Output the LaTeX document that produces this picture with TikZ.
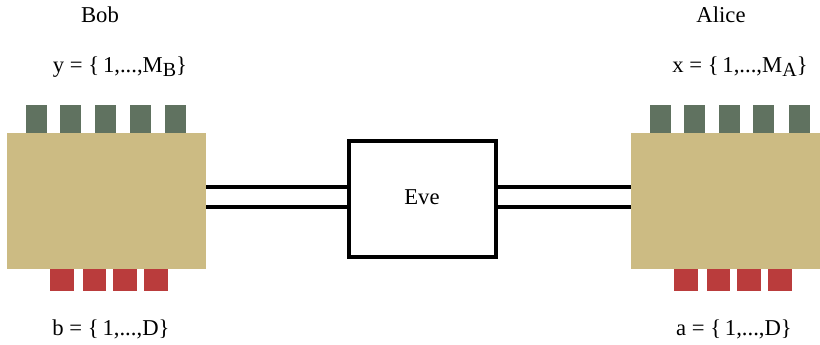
\documentclass[tikz,border=0pt]{standalone}
\usepackage{fontspec}
\setmainfont{Liberation Serif}
\definecolor{boxtan}{RGB}{204,187,131}
\definecolor{keygreen}{RGB}{96,114,96}
\definecolor{outred}{RGB}{186,60,60}
\newcommand{\lowsub}[1]{\raisebox{-0.3ex}{\fontsize{15pt}{16pt}\selectfont #1}}
\begin{document}
\begin{tikzpicture}[x=0.75pt,y=-0.75pt,
  party/.style={fill=boxtan,draw=none,inner sep=0pt,minimum width=199*0.75pt,minimum height=136*0.75pt},
  inkey/.style={fill=keygreen,draw=none,inner sep=0pt,minimum width=21*0.75pt,minimum height=28*0.75pt,anchor=south west},
  outkey/.style={fill=outred,draw=none,inner sep=0pt,minimum width=23.5*0.75pt,minimum height=22*0.75pt,anchor=north west},
  label/.style={font=\fontsize{17pt}{19pt}\selectfont,inner sep=0pt,anchor=base},
  channel/.style={line width=2.6pt},
  evebox/.style={draw,line width=3.2pt,fill=white,inner sep=0pt,minimum width=147*0.75pt,minimum height=116*0.75pt}]
\useasboundingbox (0,0) rectangle (820,345);

% the two parties
\node[party] (bob) at (106.5,201) {};
\node[party, minimum width=189*0.75pt] (alice) at (725.5,201) {};

% input keys on top of each party
\foreach \x [count=\i] in {26,60,95,130,165}
  \node[inkey] (bin\i) at (\x,133) {};
\foreach \x [count=\i] in {650,684,719,753,789}
  \node[inkey] (ain\i) at (\x,133) {};

% output keys below each party
\foreach \x [count=\i] in {50,82.5,113,144}
  \node[outkey] (bout\i) at (\x,269) {};
\foreach \x [count=\i] in {674,706.5,737,768}
  \node[outkey] (aout\i) at (\x,269) {};

% the eavesdropper in the middle
\node[evebox] (eve) at (422.5,199) {};
\node[label] (evetxt) at (422,205) {Eve};

% double channels
\draw[channel] (bob.east |- 0,187) -- (eve.west |- 0,187);
\draw[channel] (bob.east |- 0,207) -- (eve.west |- 0,207);
\draw[channel] (eve.east |- 0,187) -- (alice.west |- 0,187);
\draw[channel] (eve.east |- 0,207) -- (alice.west |- 0,207);

% labels
\node[label] (bobname) at (100,23) {Bob};
\node[label] (bobin) at (120,73) {y = \{\,1,...,M\lowsub{B}\}};
\node[label] (bobout) at (111,335) {b = \{\,1,...,D\}};
\node[label] (alicename) at (721,23) {Alice};
\node[label] (alicein) at (740,73) {x = \{\,1,...,M\lowsub{A}\}};
\node[label] (aliceout) at (734,335) {a = \{\,1,...,D\}};
\end{tikzpicture}
\end{document}
